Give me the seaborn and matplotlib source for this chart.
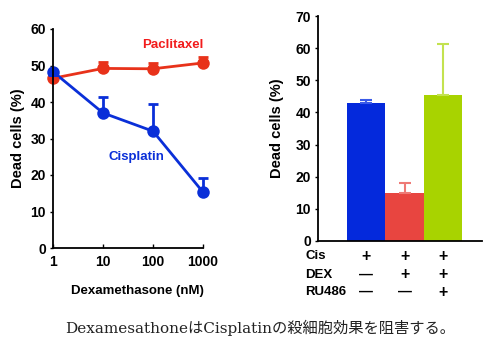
import matplotlib
matplotlib.use("Agg")
import matplotlib.pyplot as plt
import seaborn as sns
import pandas as pd
import numpy as np

sns.set_theme(style="ticks")
plt.rcParams["font.family"] = ["Liberation Sans", "DejaVu Sans"]
plt.rcParams["font.weight"] = "bold"
for key in ["text.color", "axes.labelcolor", "xtick.color", "ytick.color", "axes.edgecolor"]:
    plt.rcParams[key] = "black"

# Dose-response data (Dexamethasone, nM)
doses = [1, 10, 100, 1000]
paclitaxel = [46.5, 49.2, 49.1, 50.7]
paclitaxel_err = [0.0, 1.8, 1.7, 1.6]
cisplatin = [48.3, 37.0, 32.0, 15.3]
cisplatin_err = [0.0, 4.3, 7.4, 4.0]

# Bar chart data
conditions = ["Cis", "Cis+DEX", "Cis+DEX+RU486"]
dead_cells = [42.8, 15.0, 45.4]
dead_cells_err = [1.1, 3.2, 15.8]
row_labels = ["Cis", "DEX", "RU486"]
row_signs = [["+", "+", "+"], ["\u2014", "+", "+"], ["\u2014", "\u2014", "+"]]

red_line = "#e8321a"
red_text = "#f21c1c"
blue = "#0a2fd8"
bar_colors = ["#0429dc", "#e84540", "#a8d300"]
err_colors = ["#3a5ae8", "#ee7a76", "#c3e24f"]

fig = plt.figure(figsize=(4.86, 3.40), dpi=100)

# ---- left: line chart ----
ax1 = fig.add_axes([53 / 486, 1 - 248 / 340, 150 / 486, 219 / 340])
df_line = pd.DataFrame({
    "dose": doses * 2,
    "dead": paclitaxel + cisplatin,
    "drug": ["Paclitaxel"] * 4 + ["Cisplatin"] * 4,
})
sns.lineplot(data=df_line, x="dose", y="dead", hue="drug",
             palette={"Paclitaxel": red_line, "Cisplatin": blue},
             linewidth=2, marker="o", markersize=9, markeredgewidth=0,
             legend=False, ax=ax1, clip_on=False)
for ys, errs, c in [(paclitaxel, paclitaxel_err, red_line), (cisplatin, cisplatin_err, blue)]:
    ax1.errorbar(doses, ys, yerr=[np.zeros(4), errs], fmt="none", ecolor=c,
                 elinewidth=2, capsize=3.5, capthick=2, clip_on=False)
ax1.set_xscale("log")
ax1.set_xlim(1, 1000)
ax1.set_ylim(0, 60)
ax1.set_xticks(doses)
ax1.set_xticklabels(["1", "10", "100", "1000"])
ax1.set_yticks(range(0, 61, 10))
ax1.minorticks_off()
ax1.tick_params(axis="x", direction="in", length=3, width=1, labelsize=10, pad=5)
ax1.tick_params(axis="y", direction="out", length=2, width=1, labelsize=10, pad=3)
ax1.set_xlabel("Dexamethasone (nM)", fontsize=9.5, fontweight="bold")
ax1.xaxis.set_label_coords(0.56, -0.17)
ax1.set_ylabel("Dead cells (%)", fontsize=10.5, fontweight="bold", labelpad=4)
for s in ["top", "right"]:
    ax1.spines[s].set_visible(False)
for s in ["left", "bottom"]:
    ax1.spines[s].set_linewidth(1.3)
ax1.text(251, 55.6, "Paclitaxel", color=red_text, fontsize=9.5, fontweight="bold",
         ha="center", va="center")
ax1.text(45.7, 24.9, "Cisplatin", color=blue, fontsize=9.5, fontweight="bold",
         ha="center", va="center")

# ---- right: bar chart ----
ax2 = fig.add_axes([318 / 486, 1 - 241 / 340, 164 / 486, 225 / 340])
df_bar = pd.DataFrame({"cond": conditions, "dead": dead_cells})
sns.barplot(data=df_bar, x="cond", y="dead", hue="cond", palette=bar_colors,
            width=1.0, saturation=1, legend=False, linewidth=0, ax=ax2)
for i, (v, e, c) in enumerate(zip(dead_cells, dead_cells_err, err_colors)):
    ax2.errorbar([i], [v], yerr=[[0], [e]], fmt="none", ecolor=c,
                 elinewidth=1.5, capsize=4, capthick=1.5)
ax2.set_xlim(-1.25, 3.01)
ax2.set_ylim(0, 70)
ax2.set_yticks(range(0, 71, 10))
ax2.set_xticks([])
ax2.set_xlabel("")
ax2.set_ylabel("Dead cells (%)", fontsize=10.5, fontweight="bold", labelpad=8)
ax2.tick_params(axis="y", direction="out", length=2, width=1, labelsize=10, pad=3)
for s in ["top", "right"]:
    ax2.spines[s].set_visible(False)
for s in ["left", "bottom"]:
    ax2.spines[s].set_linewidth(1.3)

row_y = [256, 275, 292]
for lab, signs, ypix in zip(row_labels, row_signs, row_y):
    yf = 1 - ypix / 340
    fig.text(305 / 486, yf, lab, fontsize=9.5, fontweight="bold", ha="left", va="center")
    for i, sgn in enumerate(signs):
        xd = ax2.transData.transform((i, 0))[0]
        xf = fig.transFigure.inverted().transform((xd, 0))[0]
        fig.text(xf, yf, sgn, fontsize=11.5 if sgn == "+" else 10, fontweight="bold",
                 ha="center", va="center")

# caption
fig.text(260 / 486, 1 - 328 / 340,
         "DexamesathoneはCisplatinの殺細胞効果を阻害する。",
         family=["DejaVu Serif", "Noto Sans CJK JP"], fontweight="normal",
         fontsize=11, ha="center", va="center", color="#222222")

fig.savefig("out.png", dpi=100)
